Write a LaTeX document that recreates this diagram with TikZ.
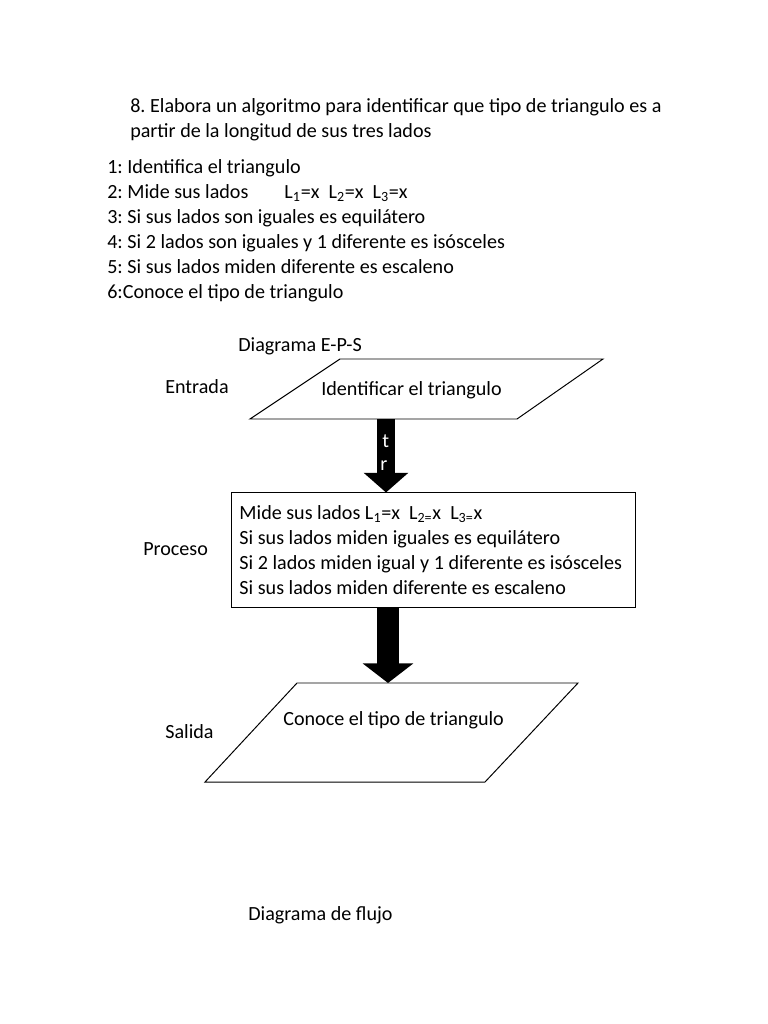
\documentclass[tikz,border=0pt]{standalone}
\usepackage{fontspec}
\setmainfont{Carlito}
\usetikzlibrary{arrows.meta, positioning}

\tikzset{
  txt/.style={anchor=west, inner sep=0pt, font=\fontsize{14.3}{17.8}\selectfont\frenchspacing},
  io/.style={draw, line width=0.7pt},
  fat/.style={line width=#1, -{Triangle[length=14pt, width=32pt]}},
}

\begin{document}
\begin{tikzpicture}[x=0.025cm, y=-0.025cm]
    \useasboundingbox[fill=white] (0,0) rectangle (768,1024);
    % enunciado
    \node[txt] (tit1) at (130,107) {8. Elabora un algoritmo para identificar que tipo de triangulo es a};
    \node[txt] (tit2) at (130,132) {partir de la longitud de sus tres lados};
    \node[txt, align=left] (pasos) at (107,231) {1: Identifica el triangulo\\
      \makebox[126pt][l]{2: Mide sus lados}L\textsubscript{1}=x\ \ L\textsubscript{2}=x\ \ L\textsubscript{3}=x\\
      3: Si sus lados son iguales es equilátero\\
      4: Si 2 lados son iguales y 1 diferente es isósceles\\
      5: Si sus lados miden diferente es escaleno\\
      6:Conoce el tipo de triangulo};
    % diagrama E-P-S
    \node[txt] (eps) at (238,346) {Diagrama E-P-S};
    \node[txt] (ent) at (165,387) {Entrada};
    \node[txt] (pro) at (143,549) {Proceso};
    \node[txt] (sal) at (165,732) {Salida};
    \draw[io] (340,359) -- (603,359) -- (517,419) -- (250,419) -- cycle;
    \node[txt] (inp) at (321,390) {Identificar el triangulo};
    \coordinate (inpS) at (386,419);
    \node[io, txt, anchor=center, text width=9.7cm, align=flush left, inner xsep=0.2cm,
          minimum height=2.85cm] (proc) at (433.5,550) {Mide sus lados L\textsubscript{1}=x\ \ L\textsubscript{2=}x\ \ L\textsubscript{3=}x\\
      Si sus lados miden iguales es equilátero\\
      Si 2 lados miden igual y 1 diferente es isósceles\\
      Si sus lados miden diferente es escaleno};
    \draw[io] (297,683) -- (578,683) -- (485,782) -- (205,782) -- cycle;
    \node[txt] (out) at (283,720) {Conoce el tipo de triangulo};
    \coordinate (outN) at (388,683);
    % flechas
    \draw[fat=12.8pt, -{Triangle[length=14pt, width=31pt]}] (inpS) -- (inpS |- proc.north);
    \node[txt, white] (t1) at (382,441) {t};
    \node[txt, white] (t2) at (380,466) {r};
    \draw[fat=16.3pt, -{Triangle[length=14pt, width=35.5pt]}] (proc.south -| outN) -- (outN);
    \node[txt] (flujo) at (248,915) {Diagrama de flujo};
\end{tikzpicture}
\end{document}
